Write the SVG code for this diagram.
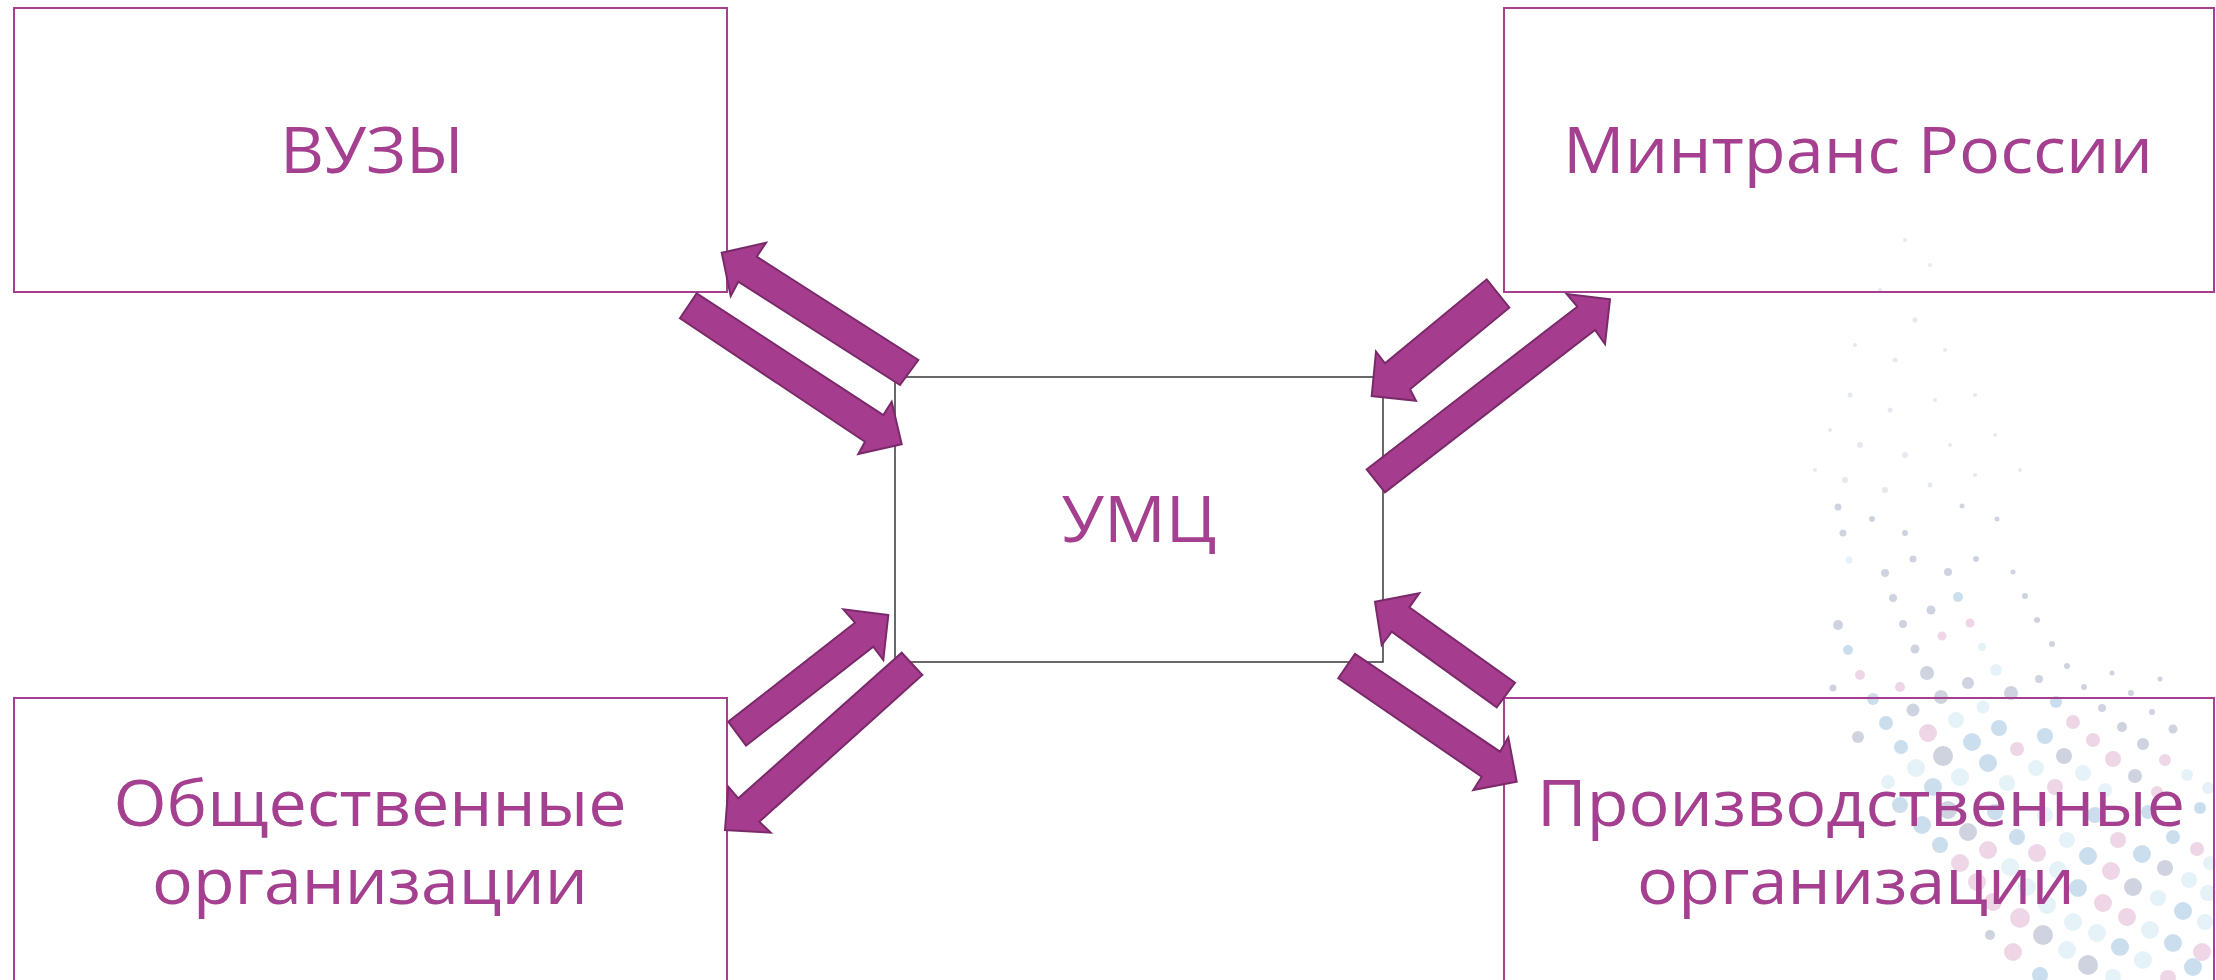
<svg xmlns="http://www.w3.org/2000/svg" width="2216" height="980" viewBox="0 0 2216 980">
<style>
.box{fill:none;stroke:#A4408F;stroke-width:2}
.core{fill:none;stroke:#444;stroke-width:1.6}
.lbl{font-family:"Open Sans","Noto Sans","Liberation Sans",sans-serif;font-size:64px;fill:#A4408F;text-anchor:middle}
.arr{fill:#A63C8D;stroke:#7A2A6A;stroke-width:2;stroke-linejoin:miter}
.g{fill:#c9cfdc}.b{fill:#c6dbec}.p{fill:#ecd2e4}.c{fill:#e3f1f7}
</style>
<rect width="2216" height="980" fill="#fff"/>
<g id="dots" opacity="0.9">
<g class="g" opacity="0.5">
<circle cx="1905" cy="240" r="2"/><circle cx="1930" cy="265" r="2"/><circle cx="1880" cy="290" r="2"/><circle cx="1915" cy="320" r="2.5"/><circle cx="1855" cy="345" r="2"/><circle cx="1895" cy="360" r="2.5"/><circle cx="1945" cy="350" r="2"/><circle cx="1850" cy="395" r="2.5"/><circle cx="1890" cy="410" r="2.5"/><circle cx="1935" cy="400" r="2"/><circle cx="1975" cy="395" r="2"/><circle cx="1830" cy="430" r="2"/><circle cx="1860" cy="445" r="3"/><circle cx="1905" cy="455" r="3"/><circle cx="1950" cy="445" r="2"/><circle cx="1995" cy="435" r="2"/><circle cx="1815" cy="470" r="2"/><circle cx="1845" cy="480" r="3"/><circle cx="1885" cy="490" r="3"/><circle cx="1930" cy="485" r="2.5"/><circle cx="1975" cy="475" r="2"/><circle cx="2020" cy="470" r="2"/>
</g>
<circle class="g" cx="1838" cy="507" r="3.5"/><circle class="g" cx="1872" cy="519" r="3"/><circle class="g" cx="1843" cy="533" r="3.5"/><circle class="g" cx="1905" cy="533" r="3"/><circle class="g" cx="1962" cy="506" r="2.5"/><circle class="g" cx="1997" cy="519" r="2.5"/>
<circle class="c" cx="1849" cy="560" r="3.5"/><circle class="g" cx="1913" cy="559" r="3.5"/><circle class="g" cx="1976" cy="559" r="3"/><circle class="g" cx="1885" cy="573" r="4"/><circle class="g" cx="1948" cy="572" r="4"/><circle class="g" cx="2013" cy="572" r="2.5"/>
<circle class="g" cx="1893" cy="598" r="4"/><circle class="b" cx="1958" cy="597" r="5"/><circle class="g" cx="1931" cy="610" r="4.5"/><circle class="g" cx="2025" cy="596" r="3"/><circle class="g" cx="1838" cy="625" r="5"/><circle class="g" cx="1903" cy="624" r="4"/><circle class="p" cx="1970" cy="623" r="4.5"/><circle class="g" cx="2037" cy="620" r="3"/><circle class="p" cx="1942" cy="636" r="4.5"/>
<circle class="b" cx="1848" cy="650" r="5"/><circle class="g" cx="1915" cy="649" r="4.5"/><circle class="c" cx="1982" cy="647" r="4"/><circle class="g" cx="2052" cy="644" r="3"/><circle class="p" cx="1860" cy="675" r="5"/><circle class="g" cx="1927" cy="673" r="7"/><circle class="c" cx="1996" cy="670" r="6"/><circle class="g" cx="2067" cy="666" r="3"/>
<circle class="g" cx="1833" cy="688" r="3.5"/><circle class="p" cx="1900" cy="687" r="5"/><circle class="g" cx="1968" cy="683" r="6"/><circle class="g" cx="2039" cy="679" r="4"/><circle class="g" cx="2112" cy="673" r="2.5"/><circle class="b" cx="1873" cy="699" r="6"/><circle class="g" cx="1941" cy="697" r="7"/><circle class="g" cx="2011" cy="693" r="7"/><circle class="g" cx="2084" cy="687" r="3"/><circle class="g" cx="2160" cy="679" r="2.5"/><circle class="g" cx="2131" cy="693" r="3"/>
<circle class="g" cx="1913" cy="710" r="6.5"/><circle class="c" cx="1983" cy="707" r="6.5"/><circle class="b" cx="2056" cy="702" r="6"/><circle class="g" cx="2102" cy="708" r="4"/><circle class="g" cx="2152" cy="712" r="3"/>
<circle class="b" cx="1886" cy="723" r="7"/><circle class="c" cx="1956" cy="720" r="8"/><circle class="p" cx="1928" cy="733" r="9"/><circle class="b" cx="1999" cy="728" r="8"/><circle class="p" cx="2073" cy="722" r="7"/><circle class="g" cx="2122" cy="727" r="5"/><circle class="g" cx="2173" cy="729" r="4.5"/>
<circle class="g" cx="1858" cy="737" r="6"/><circle class="b" cx="1901" cy="747" r="7"/><circle class="b" cx="1972" cy="742" r="9"/><circle class="b" cx="2045" cy="736" r="8"/><circle class="p" cx="2017" cy="749" r="7"/><circle class="p" cx="2093" cy="740" r="7"/><circle class="g" cx="2143" cy="744" r="6"/>
<circle class="g" cx="1943" cy="756" r="10"/><circle class="b" cx="1988" cy="763" r="9"/><circle class="g" cx="2064" cy="756" r="8"/><circle class="p" cx="2113" cy="759" r="8"/><circle class="p" cx="2165" cy="760" r="6"/><circle class="c" cx="1916" cy="768" r="9"/><circle class="c" cx="1960" cy="777" r="9"/><circle class="c" cx="2036" cy="768" r="8"/><circle class="c" cx="2083" cy="773" r="8"/><circle class="g" cx="2135" cy="776" r="7"/><circle class="c" cx="2187" cy="775" r="6"/>
<circle class="c" cx="1888" cy="782" r="7"/><circle class="b" cx="1933" cy="787" r="9"/><circle class="c" cx="2007" cy="783" r="8"/><circle class="p" cx="2055" cy="787" r="8"/><circle class="c" cx="2105" cy="790" r="7"/><circle class="p" cx="2157" cy="792" r="6"/><circle class="c" cx="2208" cy="788" r="6"/>
<circle class="b" cx="1900" cy="805" r="8"/><circle class="g" cx="1948" cy="810" r="9"/><circle class="b" cx="1995" cy="812" r="8"/><circle class="c" cx="2045" cy="815" r="8"/><circle class="b" cx="2095" cy="815" r="8"/><circle class="b" cx="2148" cy="812" r="7"/><circle class="b" cx="2200" cy="808" r="6"/>
<circle class="b" cx="1922" cy="825" r="9"/><circle class="g" cx="1968" cy="832" r="9"/><circle class="b" cx="2017" cy="837" r="8"/><circle class="c" cx="2067" cy="840" r="8"/><circle class="p" cx="2118" cy="840" r="8"/><circle class="b" cx="2173" cy="837" r="7"/>
<circle class="b" cx="1940" cy="845" r="8"/><circle class="p" cx="1988" cy="850" r="9"/><circle class="p" cx="2037" cy="853" r="9"/><circle class="b" cx="2088" cy="856" r="9"/><circle class="b" cx="2142" cy="854" r="9"/><circle class="p" cx="2197" cy="849" r="7"/>
<circle class="p" cx="1960" cy="863" r="9"/><circle class="c" cx="2010" cy="867" r="9"/><circle class="c" cx="2058" cy="870" r="9"/><circle class="p" cx="2111" cy="871" r="9"/><circle class="g" cx="2165" cy="868" r="8"/><circle class="c" cx="2210" cy="863" r="7"/>
<circle class="p" cx="1977" cy="882" r="9"/><circle class="c" cx="2027" cy="887" r="9"/><circle class="b" cx="2078" cy="888" r="9"/><circle class="g" cx="2133" cy="887" r="9"/><circle class="c" cx="2189" cy="880" r="8"/>
<circle class="p" cx="1993" cy="902" r="9"/><circle class="c" cx="2047" cy="905" r="9"/><circle class="p" cx="2103" cy="903" r="9"/><circle class="c" cx="2158" cy="898" r="8"/><circle class="c" cx="2208" cy="893" r="8"/><circle class="b" cx="2183" cy="911" r="9"/>
<circle class="p" cx="2020" cy="918" r="10"/><circle class="c" cx="2073" cy="922" r="9"/><circle class="p" cx="2127" cy="917" r="9"/><circle class="c" cx="2205" cy="922" r="8"/>
<circle class="g" cx="1990" cy="935" r="5"/><circle class="g" cx="2043" cy="935" r="10"/><circle class="c" cx="2097" cy="933" r="9"/><circle class="c" cx="2150" cy="930" r="9"/>
<circle class="p" cx="2013" cy="952" r="9"/><circle class="c" cx="2067" cy="950" r="9"/><circle class="b" cx="2120" cy="947" r="9"/><circle class="b" cx="2173" cy="943" r="9"/><circle class="p" cx="2202" cy="952" r="9"/>
<circle class="g" cx="2088" cy="965" r="10"/><circle class="c" cx="2143" cy="960" r="9"/><circle class="b" cx="2193" cy="967" r="9"/><circle class="b" cx="2040" cy="975" r="8"/><circle class="c" cx="2113" cy="977" r="8"/><circle class="p" cx="2168" cy="978" r="8"/>
</g>
<g id="node-vuzy">
<rect class="box" x="14" y="8" width="713" height="284"/>
<text class="lbl" x="372" y="173" textLength="184" lengthAdjust="spacingAndGlyphs">ВУЗЫ</text>
</g>
<g id="node-mintrans">
<rect class="box" x="1504" y="8" width="710" height="284"/>
<text class="lbl" x="1858" y="173" textLength="590" lengthAdjust="spacingAndGlyphs">Минтранс России</text>
</g>
<g id="node-umc">
<rect class="core" x="895" y="377" width="488" height="285"/>
<text class="lbl" x="1139" y="542" textLength="155" lengthAdjust="spacingAndGlyphs">УМЦ</text>
</g>
<g id="node-obsch">
<rect class="box" x="14" y="698" width="713" height="300"/>
<text class="lbl" x="370" y="826" textLength="513" lengthAdjust="spacingAndGlyphs">Общественные</text>
<text class="lbl" x="370" y="904" textLength="436" lengthAdjust="spacingAndGlyphs">организации</text>
</g>
<g id="node-proizv">
<rect class="box" x="1504" y="698" width="710" height="300"/>
<text class="lbl" x="1861" y="826" textLength="648" lengthAdjust="spacingAndGlyphs">Производственные</text>
<text class="lbl" x="1856" y="904" textLength="438" lengthAdjust="spacingAndGlyphs">организации</text>
</g>
<g id="connectors">
<polygon class="arr" points="721.7,252.7 766,242.7 756.7,256.7 918.3,360 900,385 738.3,281.7 730.7,296"/>
<polygon class="arr" points="901.7,444.3 891.7,401.7 883.3,415 696.7,293.3 680,318.3 865,441.7 858.3,454"/>
<polygon class="arr" points="1371.7,396 1376,351.7 1385,363.3 1486.7,279.3 1509.3,307.7 1410,389.3 1416,400.7"/>
<polygon class="arr" points="1610,299.3 1566.7,294 1577.3,306.7 1366.7,469.3 1385,492.3 1595,330 1605,344"/>
<polygon class="arr" points="888.3,615 843.3,609.3 855,622.7 728.3,721.7 746,745.7 873.3,646.7 883.3,660"/>
<polygon class="arr" points="725,830 728.3,786.7 738.3,798.3 901.7,652.7 922.3,675 759.3,821.7 770.7,832.7"/>
<polygon class="arr" points="1375,601.7 1419.3,593.3 1409.3,607.3 1515,682.7 1496.7,707.3 1391.7,631.7 1381.7,645"/>
<polygon class="arr" points="1516.7,781.7 1508.3,737.3 1500,751.7 1355,654 1338.3,678.3 1481.7,776.7 1473.3,790"/>
</g>
</svg>
